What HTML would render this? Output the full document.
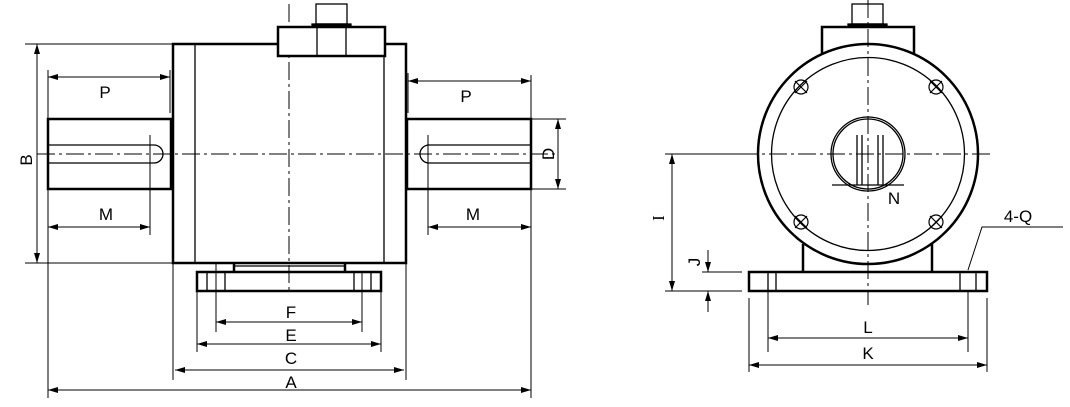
<!DOCTYPE html>
<html><head><meta charset="utf-8"><style>html,body{margin:0;padding:0;background:#fff}svg{display:block}text{font-family:"Liberation Sans",sans-serif;font-size:17px;fill:#000}</style></head>
<body>
<svg width="1070" height="407" viewBox="0 0 1070 407" xmlns="http://www.w3.org/2000/svg">
<defs>
<marker id="a" viewBox="0 0 10 6" refX="10" refY="3" markerWidth="10" markerHeight="6" orient="auto-start-reverse" markerUnits="userSpaceOnUse"><path d="M0,0 L10,3 L0,6 z" fill="#000"/></marker>
</defs>
<g fill="none" stroke="#000">
<g stroke-width="1" stroke-dasharray="18,4,3,4">
<line x1="289" y1="4" x2="289" y2="292"/>
<line x1="37" y1="154" x2="556" y2="154"/>
</g>
<g stroke-width="2.5">
<rect x="173" y="44" width="233" height="219"/>
<rect x="278" y="27" width="107" height="29" fill="#fff"/>
<rect x="48" y="119" width="123" height="70"/>
<rect x="407" y="119" width="124" height="70"/>
<rect x="197" y="272" width="184" height="19"/>
</g>
<g stroke-width="1.3">
<line x1="195" y1="44" x2="195" y2="263"/>
<line x1="384" y1="56" x2="384" y2="263"/>
<line x1="317" y1="27" x2="317" y2="56"/>
<line x1="346" y1="27" x2="346" y2="56"/>
<rect x="316" y="4" width="31" height="20"/>
<rect x="312" y="24" width="39" height="3" fill="#000"/>
<path d="M48,145 H154 A9,9 0 0 1 154,163 H48"/>
<path d="M531,145 H429 A9,9 0 0 0 429,163 H531"/>
<line x1="234" y1="263" x2="234" y2="272" stroke-width="2.5"/>
<line x1="345" y1="263" x2="345" y2="272" stroke-width="2.5"/>
<line x1="234" y1="266" x2="345" y2="266"/>
<line x1="207" y1="272" x2="207" y2="291"/><line x1="225" y1="272" x2="225" y2="291"/>
<line x1="354" y1="272" x2="354" y2="291"/><line x1="371" y1="272" x2="371" y2="291"/>
</g>
<g stroke-width="1">
<line x1="25" y1="44" x2="173" y2="44"/><line x1="25" y1="263" x2="173" y2="263"/>
<line x1="37" y1="44" x2="37" y2="263" marker-start="url(#a)" marker-end="url(#a)"/>
<line x1="48" y1="70" x2="48" y2="398"/><line x1="531" y1="75" x2="531" y2="398"/>
<line x1="170" y1="70" x2="170" y2="113"/><line x1="408" y1="73" x2="408" y2="113"/>
<line x1="48" y1="77" x2="170" y2="77" marker-start="url(#a)" marker-end="url(#a)"/>
<line x1="408" y1="81" x2="531" y2="81" marker-start="url(#a)" marker-end="url(#a)"/>
<line x1="150" y1="135" x2="150" y2="235"/><line x1="428" y1="135" x2="428" y2="235"/>
<line x1="48" y1="227" x2="150" y2="227" marker-start="url(#a)" marker-end="url(#a)"/>
<line x1="428" y1="227" x2="531" y2="227" marker-start="url(#a)" marker-end="url(#a)"/>
<line x1="531" y1="119" x2="566" y2="119"/><line x1="531" y1="189" x2="566" y2="189"/>
<line x1="558" y1="119" x2="558" y2="189" marker-start="url(#a)" marker-end="url(#a)"/>
<line x1="216" y1="263" x2="216" y2="332"/><line x1="362" y1="272" x2="362" y2="332"/>
<line x1="216" y1="322" x2="362" y2="322" marker-start="url(#a)" marker-end="url(#a)"/>
<line x1="197" y1="291" x2="197" y2="352"/><line x1="381" y1="291" x2="381" y2="352"/>
<line x1="197" y1="344" x2="381" y2="344" marker-start="url(#a)" marker-end="url(#a)"/>
<line x1="173" y1="263" x2="173" y2="380"/><line x1="406" y1="263" x2="406" y2="380"/>
<line x1="175" y1="370" x2="404" y2="370" marker-start="url(#a)" marker-end="url(#a)"/>
<line x1="48" y1="390" x2="531" y2="390" marker-start="url(#a)" marker-end="url(#a)"/>
</g>
<g stroke-width="1" stroke-dasharray="18,4,3,4">
<line x1="868" y1="0" x2="868" y2="305"/>
<line x1="740" y1="154" x2="990" y2="154"/>
</g>
<g stroke-width="2.5">
<path d="M822,55 V27 H914 V55"/>
<circle cx="868" cy="154" r="110"/>
<line x1="803" y1="244" x2="803" y2="272"/><line x1="932" y1="244" x2="932" y2="272"/>
<rect x="749" y="272" width="238" height="19"/>
</g>
<g stroke-width="1.3">
<rect x="852" y="4" width="31" height="20"/>
<rect x="848" y="24" width="39" height="3" fill="#000"/>
<circle cx="868" cy="154" r="96.5"/>
<circle cx="868" cy="154" r="37"/><circle cx="868" cy="154" r="35"/>
<line x1="832" y1="185" x2="904" y2="185"/>
<line x1="857" y1="135" x2="857" y2="185"/><line x1="862" y1="135" x2="862" y2="185"/>
<line x1="878" y1="135" x2="878" y2="185"/><line x1="883" y1="135" x2="883" y2="185"/>
<line x1="768" y1="272" x2="768" y2="291"/><line x1="776" y1="272" x2="776" y2="291"/>
<line x1="960" y1="272" x2="960" y2="291"/><line x1="976" y1="272" x2="976" y2="291"/>
</g>
<g stroke-width="1.2">
<circle cx="801" cy="87" r="7"/><path d="M795,81 L807,93 M807,81 L795,93"/>
<circle cx="936" cy="87" r="7"/><path d="M930,81 L942,93 M942,81 L930,93"/>
<circle cx="801" cy="222" r="7"/><path d="M795,216 L807,228 M807,216 L795,228"/>
<circle cx="936" cy="222" r="7"/><path d="M930,216 L942,228 M942,216 L930,228"/>
</g>
<g stroke-width="1">
<line x1="665" y1="154" x2="740" y2="154"/>
<line x1="665" y1="291" x2="742" y2="291"/>
<line x1="702" y1="272" x2="742" y2="272"/>
<line x1="672" y1="154" x2="672" y2="291" marker-start="url(#a)" marker-end="url(#a)"/>
<line x1="708" y1="250" x2="708" y2="272" marker-end="url(#a)"/>
<line x1="708" y1="312" x2="708" y2="291" marker-end="url(#a)"/>
<line x1="768" y1="291" x2="768" y2="352"/><line x1="968" y1="291" x2="968" y2="352"/>
<line x1="768" y1="338" x2="968" y2="338" marker-start="url(#a)" marker-end="url(#a)"/>
<line x1="749" y1="298" x2="749" y2="372"/><line x1="987" y1="298" x2="987" y2="372"/>
<line x1="749" y1="365" x2="987" y2="365" marker-start="url(#a)" marker-end="url(#a)"/>
<path d="M1063,227 H982 L968,270"/>
</g>
</g>
<text x="105" y="98" text-anchor="middle">P</text>
<text x="466" y="102" text-anchor="middle">P</text>
<text x="106" y="220" text-anchor="middle">M</text>
<text x="473" y="220" text-anchor="middle">M</text>
<text x="291" y="318" text-anchor="middle">F</text>
<text x="291" y="341" text-anchor="middle">E</text>
<text x="291" y="364" text-anchor="middle">C</text>
<text x="291" y="388" text-anchor="middle">A</text>
<text transform="translate(32,160) rotate(-90)" text-anchor="middle">B</text>
<text transform="translate(554,154) rotate(-90)" text-anchor="middle">D</text>
<text transform="translate(664,218) rotate(-90)" text-anchor="middle" style="font-family:'Liberation Serif',serif">I</text>
<text transform="translate(700,262) rotate(-90)" text-anchor="middle" font-size="15">J</text>
<text x="894" y="204" text-anchor="middle">N</text>
<text x="1018" y="222" text-anchor="middle">4-Q</text>
<text x="868" y="333" text-anchor="middle">L</text>
<text x="868" y="359" text-anchor="middle">K</text>
</svg>
</body></html>
